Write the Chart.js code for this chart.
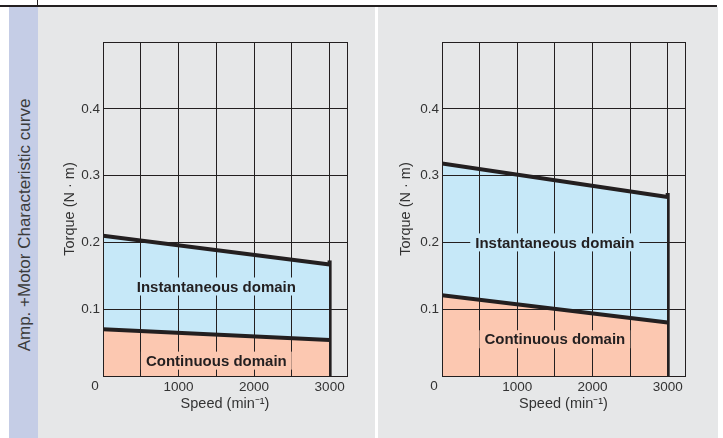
<!DOCTYPE html>
<html>
<head>
<meta charset="utf-8">
<script src="https://cdn.jsdelivr.net/npm/chart.js@4.4.1/dist/chart.umd.min.js"></script>
<style>
  body { margin: 0; width: 723px; height: 438px; background: #fff; position: relative; overflow: hidden; font-family: "Liberation Sans", Arial, sans-serif; }
  .abs { position: absolute; }
  #topline { left: 0; top: 5px; width: 717px; height: 2px; background: #231f20; }
  #toptick { left: 37px; top: 0; width: 1px; height: 5px; background: #231f20; }
  #band { left: 9px; top: 7px; width: 29px; height: 431px; background: #c5cde6; }
  #panelL { left: 38px; top: 7px; width: 337px; height: 431px; background: #e6e7e8; }
  #panelR { left: 378px; top: 7px; width: 340px; height: 431px; background: #e6e7e8; }
  #side { left: 24px; top: 225px; transform: translate(-50%, -50%) rotate(-90deg); white-space: nowrap; font-size: 17px; line-height: 1; color: #3b3b3b; }
  canvas { display: block; }
</style>
</head>
<body>
<div class="abs" id="topline"></div>
<div class="abs" id="toptick"></div>
<div class="abs" id="band"></div>
<div class="abs" id="panelL"><canvas id="chartL" width="337" height="431"></canvas></div>
<div class="abs" id="panelR"><canvas id="chartR" width="340" height="431"></canvas></div>
<div class="abs" id="side">Amp. +Motor Characteristic curve</div>
<script>
// speed end points of the curves (min^-1)
const speeds = [0, 3000];
// left motor
const leftInst = [0.21, 0.167];
const leftCont = [0.07, 0.054];
// right motor
const rightInst = [0.318, 0.268];
const rightCont = [0.121, 0.08];
// grid and tick labels
const xGrid = [0, 500, 1000, 1500, 2000, 2500, 3000];
const xTicks = [1000, 2000, 3000];
const yGrid = [0, 0.1, 0.2, 0.3, 0.4, 0.5];
const yTicks = [0.1, 0.2, 0.3, 0.4];

const ink = '#231f20';
const blue = '#c6e8f8';
const salmon = '#fcc8b1';
const textCol = '#333333';

Chart.defaults.font.family = '"Liberation Sans", Arial, sans-serif';
Chart.defaults.color = textCol;

const domains = {
  id: 'domains',
  afterDraw(chart, args, opts) {
    const {ctx, chartArea: a, scales: {x, y}} = chart;
    ctx.save();
    // frame round the plot
    ctx.strokeStyle = ink;
    ctx.lineWidth = 1;
    ctx.strokeRect(Math.round(a.left) + 0.5, Math.round(a.top) + 0.5,
                   Math.round(a.right - a.left), Math.round(a.bottom - a.top));
    // domain names
    ctx.font = 'bold 15px "Liberation Sans", Arial, sans-serif';
    ctx.textAlign = 'center';
    ctx.textBaseline = 'middle';
    opts.labels.forEach(l => {
      const px = x.getPixelForValue(l.x), py = y.getPixelForValue(l.y);
      const w = ctx.measureText(l.text).width + 10;
      ctx.fillStyle = l.bg;
      ctx.fillRect(px - w / 2, py - 9, w, 18);
      ctx.fillStyle = ink;
      ctx.fillText(l.text, px, py + 1);
    });
    // shared origin label
    ctx.font = '13.5px "Liberation Sans", Arial, sans-serif';
    ctx.fillStyle = textCol;
    ctx.fillText('0', x.getPixelForValue(0) - 8, y.getPixelForValue(0) + 10);
    ctx.restore();
  }
};

function pts(vals) {
  return speeds.map((s, i) => ({x: s, y: vals[i]}));
}

function makeChart(id, inst, cont, yWidth, padRight, yTitlePad, labelSpots) {
  const line = {borderColor: ink, borderWidth: 4, pointRadius: 0, tension: 0};
  return new Chart(document.getElementById(id), {
    type: 'line',
    data: {
      datasets: [
        Object.assign({data: pts(cont), fill: 'origin', backgroundColor: salmon}, line),
        Object.assign({data: pts(inst), fill: 0, backgroundColor: blue}, line),
        Object.assign({data: [{x: 3000, y: 0}, {x: 3000, y: inst[inst.length - 1] + 0.003}], fill: false, borderCapStyle: 'square'}, line)
      ]
    },
    options: {
      responsive: false,
      animation: false,
      layout: {padding: {top: 35, right: padRight, bottom: 22, left: 0}},
      plugins: {
        legend: {display: false},
        tooltip: {enabled: false},
        domains: {labels: labelSpots}
      },
      scales: {
        x: {
          type: 'linear', min: 0, max: 3230,
          grid: {color: ink, lineWidth: 1, drawTicks: false, z: 1},
          border: {display: false},
          afterBuildTicks: s => { s.ticks = xGrid.map(v => ({value: v})); },
          ticks: {
            autoSkip: false, maxRotation: 0, padding: 3,
            font: {size: 13.5},
            callback: v => xTicks.includes(v) ? String(v) : ''
          },
          title: {display: true, text: 'Speed (min\u207B\u00B9)', font: {size: 14.5}, padding: {top: 0, bottom: 3}},
          afterFit: s => { s.height = 40; }
        },
        y: {
          min: 0, max: 0.5,
          grid: {color: ink, lineWidth: 1, drawTicks: false, z: 1},
          border: {display: false},
          afterBuildTicks: s => { s.ticks = yGrid.map(v => ({value: v})); },
          ticks: {
            padding: 3,
            font: {size: 13.5},
            callback: v => yTicks.includes(v) ? v.toFixed(1) : ''
          },
          title: {display: true, text: 'Torque (N \u00B7 m)', font: {size: 14.5}, padding: {top: yTitlePad, bottom: 0}},
          afterFit: s => { s.width = yWidth; }
        }
      }
    },
    plugins: [domains]
  });
}

makeChart('chartL', leftInst, leftCont, 65, 28, 23, [
  {text: 'Instantaneous domain', x: 1500, y: 0.134, bg: blue},
  {text: 'Continuous domain', x: 1500, y: 0.023, bg: salmon}
]);
makeChart('chartR', rightInst, rightCont, 64, 33, 19, [
  {text: 'Instantaneous domain', x: 1500, y: 0.2, bg: blue},
  {text: 'Continuous domain', x: 1500, y: 0.055, bg: salmon}
]);
</script>
</body>
</html>
